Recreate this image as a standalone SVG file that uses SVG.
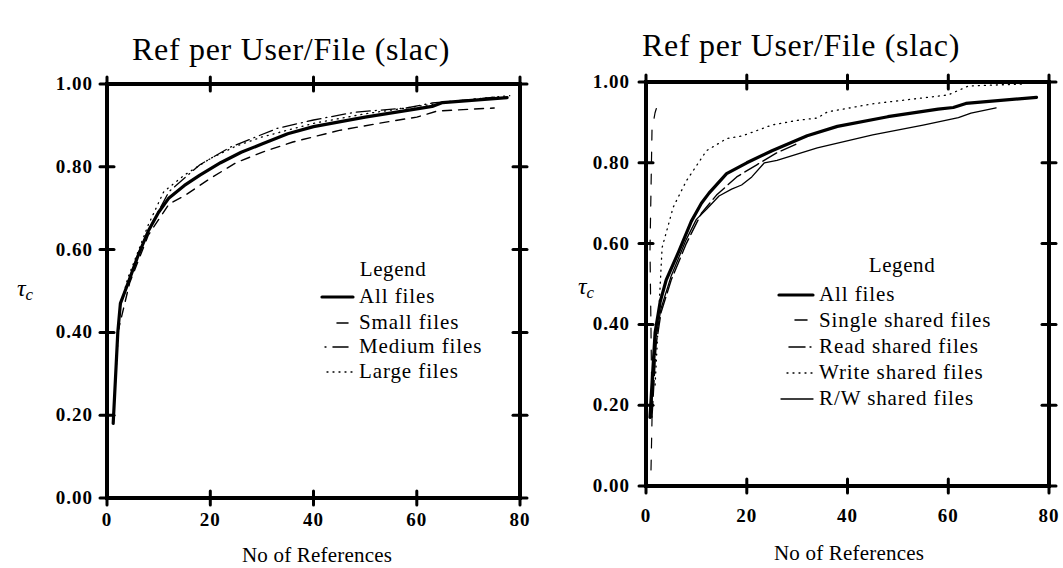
<svg xmlns="http://www.w3.org/2000/svg" width="1063" height="568" viewBox="0 0 1063 568">
<style>
text{font-family:"Liberation Serif","Times New Roman","DejaVu Serif",serif;fill:#000}
.title{font-size:32px;letter-spacing:0.7px;text-anchor:middle}
.tick{font-size:19px;font-weight:bold;letter-spacing:1px}
.ty{text-anchor:end}
.tx{text-anchor:middle}
.axt{font-size:21px;letter-spacing:0.2px;text-anchor:middle}
.leg{font-size:21px;letter-spacing:0.9px}
.legh{font-size:21px;letter-spacing:0.6px;text-anchor:middle}
.ylab{font-size:24px;font-style:italic}
.frame{fill:none;stroke:#000;stroke-width:4;stroke-linejoin:miter}
.tk{stroke:#000;stroke-width:3;stroke-linecap:round}
.c{fill:none;stroke:#000;stroke-linejoin:round;stroke-linecap:round}
.all{stroke-width:3.2}
.thin{stroke-width:1.3}
.dash{stroke-width:1.4;stroke-dasharray:9 7}
.dashdot{stroke-width:1.3;stroke-dasharray:14 5 1 5}
.dot{stroke-width:1.3;stroke-dasharray:1 5}
.ldash{stroke-width:1.4;stroke-dasharray:16 5}
.vdash{stroke-width:1.2;stroke-dasharray:10 12}
</style>

<g id="title-left"><text class="title" x="291" y="60">Ref per User/File (slac)</text></g>
<g id="title-right"><text class="title" x="801" y="56">Ref per User/File (slac)</text></g>

<!-- LEFT PLOT -->
<g id="plot-left">
  <rect class="frame" x="107" y="84" width="413" height="414"/>
  <g id="ticks-left">
    <line class="tk" x1="100" y1="498" x2="114" y2="498"/>
    <line class="tk" x1="100" y1="415.2" x2="114" y2="415.2"/>
    <line class="tk" x1="100" y1="332.4" x2="114" y2="332.4"/>
    <line class="tk" x1="100" y1="249.6" x2="114" y2="249.6"/>
    <line class="tk" x1="100" y1="166.8" x2="114" y2="166.8"/>
    <line class="tk" x1="100" y1="84" x2="114" y2="84"/>
    <line class="tk" x1="513" y1="498" x2="527" y2="498"/>
    <line class="tk" x1="513" y1="415.2" x2="527" y2="415.2"/>
    <line class="tk" x1="513" y1="332.4" x2="527" y2="332.4"/>
    <line class="tk" x1="513" y1="249.6" x2="527" y2="249.6"/>
    <line class="tk" x1="513" y1="166.8" x2="527" y2="166.8"/>
    <line class="tk" x1="513" y1="84" x2="527" y2="84"/>
    <line class="tk" x1="107" y1="491" x2="107" y2="505"/>
    <line class="tk" x1="210.3" y1="491" x2="210.3" y2="505"/>
    <line class="tk" x1="313.5" y1="491" x2="313.5" y2="505"/>
    <line class="tk" x1="416.8" y1="491" x2="416.8" y2="505"/>
    <line class="tk" x1="520" y1="491" x2="520" y2="505"/>
    <line class="tk" x1="107" y1="77" x2="107" y2="91"/>
    <line class="tk" x1="210.3" y1="77" x2="210.3" y2="91"/>
    <line class="tk" x1="313.5" y1="77" x2="313.5" y2="91"/>
    <line class="tk" x1="416.8" y1="77" x2="416.8" y2="91"/>
    <line class="tk" x1="520" y1="77" x2="520" y2="91"/>
  </g>
  <g id="ticklabels-left">
    <text class="tick ty" x="93" y="504">0.00</text>
    <text class="tick ty" x="93" y="421">0.20</text>
    <text class="tick ty" x="93" y="338">0.40</text>
    <text class="tick ty" x="93" y="256">0.60</text>
    <text class="tick ty" x="93" y="173">0.80</text>
    <text class="tick ty" x="93" y="90">1.00</text>
    <text class="tick tx" x="107" y="526">0</text>
    <text class="tick tx" x="210.3" y="526">20</text>
    <text class="tick tx" x="313.5" y="526">40</text>
    <text class="tick tx" x="416.8" y="526">60</text>
    <text class="tick tx" x="520" y="526">80</text>
  </g>
  <text class="axt" x="317" y="562">No of References</text>
  <text class="ylab" x="17" y="296">τ<tspan font-size="17" dy="4">c</tspan></text>
</g>

<g id="curves-left">
  <polyline class="c all" points="113.2,423.5 117.8,332.4 120.4,303.4 125.1,291 129.7,278.6 138,255.8 148.3,231 158.6,212.3 169,197.9 184.4,185.4 199.9,175.1 220.6,162.7 241.2,152.3 261.9,144 287.7,133.7 313.5,126.6 365.1,117.1 416.8,108.8 432.2,106.4 442.6,102.6 468.4,100.6 507.1,97.7"/>
  <polyline class="c dash" points="117.8,332.4 129.7,282.7 148.3,235.1 169,204.1 184.4,195.8 210.3,178.4 236.1,162.7 261.9,152.3 292.9,142 339.3,130.4 385.8,122.1 416.8,117.1 437.4,111 494.2,108"/>
  <polyline class="c dashdot" points="122.5,299.3 138,253.7 153.5,220.6 169,191.6 199.9,164.7 230.9,146.9 277.4,128.3 313.5,120 354.8,112.2 406.4,108 432.2,103 499.4,96.8"/>
  <polyline class="c dot" points="114.7,394.5 119.9,307.6 127.6,278.6 138,251.7 148.3,224.8 163.8,191.6 184.4,175.1 210.3,158.5 236.1,146.1 261.9,137 313.5,123.3 365.1,113.8 416.8,106.4 468.4,99.7 509.7,95.6"/>
</g>

<g id="legend-left">
  <text class="legh" x="393" y="276">Legend</text>
  <line class="c all" x1="322" y1="297" x2="353" y2="297"/>
  <text class="leg" x="359" y="303">All files</text>
  <line class="c" stroke-width="1.5" x1="337" y1="323" x2="348" y2="323"/>
  <text class="leg" x="359" y="329">Small files</text>
  <line class="c" stroke-width="1.3" x1="325" y1="347" x2="326" y2="347"/>
  <line class="c" stroke-width="1.5" x1="333" y1="347" x2="348" y2="347"/>
  <text class="leg" x="359" y="353">Medium files</text>
  <line class="c dot" x1="327" y1="372" x2="352" y2="372"/>
  <text class="leg" x="359" y="378">Large files</text>
</g>

<!-- RIGHT PLOT -->
<g id="plot-right">
  <rect class="frame" x="646" y="82" width="403" height="404"/>
  <g id="ticks-right">
    <line class="tk" x1="639" y1="486" x2="653" y2="486"/>
    <line class="tk" x1="639" y1="405.2" x2="653" y2="405.2"/>
    <line class="tk" x1="639" y1="324.4" x2="653" y2="324.4"/>
    <line class="tk" x1="639" y1="243.6" x2="653" y2="243.6"/>
    <line class="tk" x1="639" y1="162.8" x2="653" y2="162.8"/>
    <line class="tk" x1="639" y1="82" x2="653" y2="82"/>
    <line class="tk" x1="1042" y1="486" x2="1056" y2="486"/>
    <line class="tk" x1="1042" y1="405.2" x2="1056" y2="405.2"/>
    <line class="tk" x1="1042" y1="324.4" x2="1056" y2="324.4"/>
    <line class="tk" x1="1042" y1="243.6" x2="1056" y2="243.6"/>
    <line class="tk" x1="1042" y1="162.8" x2="1056" y2="162.8"/>
    <line class="tk" x1="1042" y1="82" x2="1056" y2="82"/>
    <line class="tk" x1="646" y1="479" x2="646" y2="493"/>
    <line class="tk" x1="746.8" y1="479" x2="746.8" y2="493"/>
    <line class="tk" x1="847.5" y1="479" x2="847.5" y2="493"/>
    <line class="tk" x1="948.3" y1="479" x2="948.3" y2="493"/>
    <line class="tk" x1="1049" y1="479" x2="1049" y2="493"/>
    <line class="tk" x1="646" y1="75" x2="646" y2="89"/>
    <line class="tk" x1="746.8" y1="75" x2="746.8" y2="89"/>
    <line class="tk" x1="847.5" y1="75" x2="847.5" y2="89"/>
    <line class="tk" x1="948.3" y1="75" x2="948.3" y2="89"/>
    <line class="tk" x1="1049" y1="75" x2="1049" y2="89"/>
  </g>
  <g id="ticklabels-right">
    <text class="tick ty" x="630" y="492">0.00</text>
    <text class="tick ty" x="630" y="411">0.20</text>
    <text class="tick ty" x="630" y="330">0.40</text>
    <text class="tick ty" x="630" y="250">0.60</text>
    <text class="tick ty" x="630" y="169">0.80</text>
    <text class="tick ty" x="630" y="88">1.00</text>
    <text class="tick tx" x="646" y="522">0</text>
    <text class="tick tx" x="746.8" y="522">20</text>
    <text class="tick tx" x="847.5" y="522">40</text>
    <text class="tick tx" x="948.3" y="522">60</text>
    <text class="tick tx" x="1049" y="522">80</text>
  </g>
  <text class="axt" x="849" y="560">No of References</text>
  <text class="ylab" x="578" y="294">τ<tspan font-size="17" dy="4">c</tspan></text>
</g>

<g id="curves-right">
  <polyline class="c all" points="650,417.3 655.1,332.5 660.1,302.2 666.2,280 678.7,251.7 691.3,221.4 701.4,203.2 709,193.1 726.6,173.7 746.8,162.8 772,150.7 807.2,135.7 837.4,126.4 887.8,116.7 938.2,109.1 953.3,107.5 965.9,103.4 1036.5,97.4"/>
  <polyline class="c thin" points="651,417.3 656.1,336.5 661.1,308.2 671.2,275.9 686.2,239.6 696.4,219.4 706.5,209.3 719,196 731.6,189.1 741.6,185 751.8,176.9 764.4,162.8 777,160.4 817.3,147.9 872.7,134.9 923.1,125.2 958.4,117.6 971,113.1 996.1,107.9"/>
  <polyline class="c ldash" points="652,417.3 656.1,344.6 661.1,312.3 671.2,280 686.3,243.6 701.4,213.3 716.5,195.1 736.7,176.9 756.8,164.8 777,152.7 799.6,142.6"/>
  <polyline class="c dot" points="655.1,385 662.1,247.6 673.2,207.2 686.3,181 706.5,150.7 726.6,138.6 742,136 772,125 797,120.4 817.3,118 827.4,111.9 872.7,103.8 948.3,94.9 968.4,86 1023.8,84"/>
  <polyline class="c vdash" points="651,470 652,420 651,330 650,250 651,190 652,130 655,113 658,103"/>
</g>

<g id="legend-right">
  <text class="legh" x="902" y="272">Legend</text>
  <line class="c all" x1="779" y1="295" x2="813" y2="295"/>
  <text class="leg" x="819" y="301">All files</text>
  <line class="c" stroke-width="1.5" x1="795" y1="320" x2="807" y2="320"/>
  <text class="leg" x="819" y="327">Single shared files</text>
  <line class="c" stroke-width="1.5" x1="789" y1="347" x2="805" y2="347"/>
  <line class="c" stroke-width="1.3" x1="810" y1="347" x2="811" y2="347"/>
  <text class="leg" x="819" y="353">Read shared files</text>
  <line class="c dot" x1="787" y1="373" x2="812" y2="373"/>
  <text class="leg" x="819" y="379">Write shared files</text>
  <line class="c thin" x1="781" y1="399" x2="813" y2="399"/>
  <text class="leg" x="819" y="405">R/W shared files</text>
</g>
</svg>
